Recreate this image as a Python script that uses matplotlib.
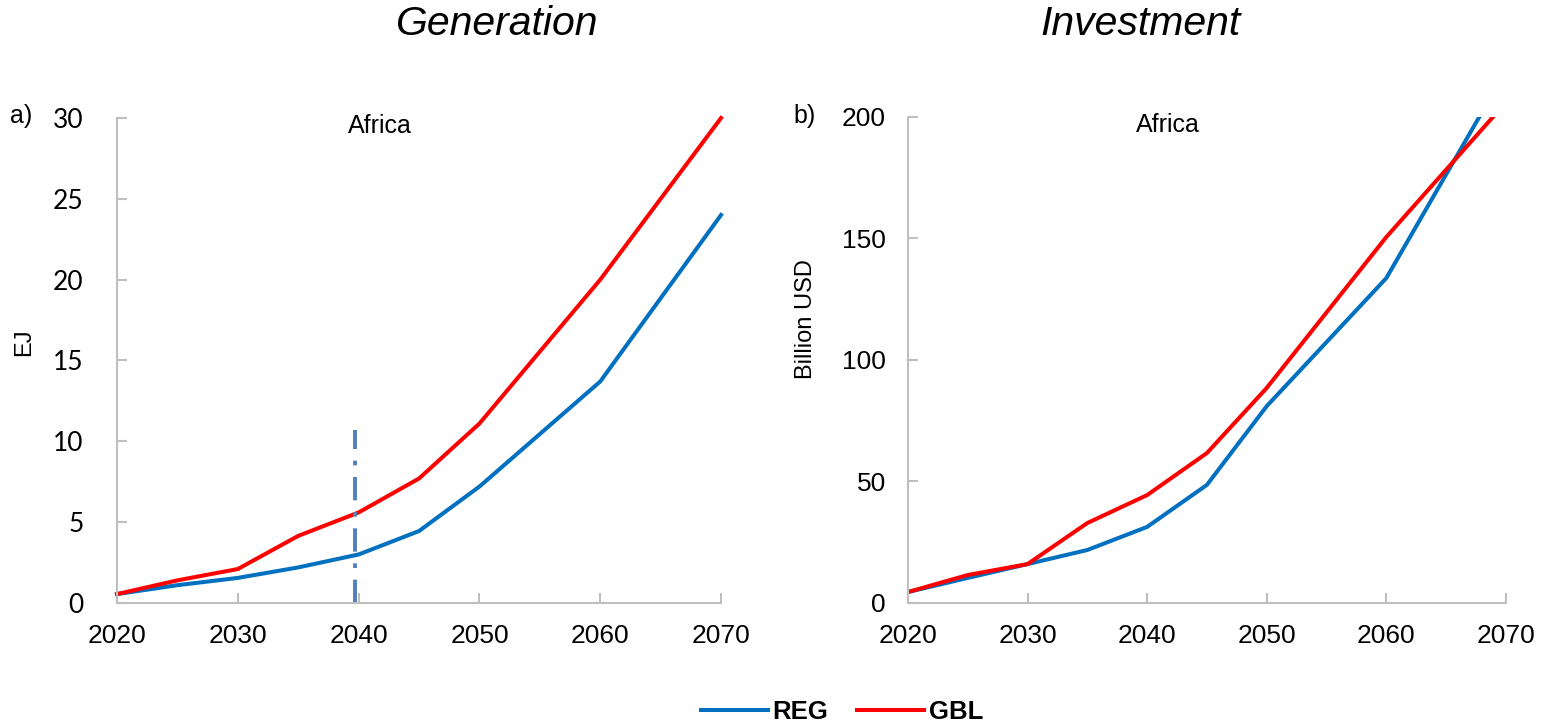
import matplotlib
matplotlib.use("Agg")
import matplotlib.pyplot as plt
from matplotlib.lines import Line2D

# Data
years = [2020, 2025, 2030, 2035, 2040, 2045, 2050, 2060, 2070]

# Generation (EJ), Africa
gen_reg = [0.55, 1.1, 1.55, 2.2, 3.0, 4.45, 7.2, 13.7, 24.0]
gen_gbl = [0.55, 1.4, 2.1, 4.15, 5.6, 7.7, 11.1, 20.0, 30.0]

# Investment (Billion USD), Africa
inv_reg = [4.5, 10.3, 16.0, 21.8, 31.3, 48.6, 81.0, 133.7, 219.0]
inv_gbl = [4.5, 11.5, 16.0, 32.9, 44.4, 61.7, 88.5, 150.6, 206.0]

# marker line at 2040 in generation panel
marker_year = 2040
marker_top = 10.7

BLUE = "#0070c0"
RED = "#ff0000"
GRID = "#bfbfbf"
ARIAL = "Liberation Sans"

fig = plt.figure(figsize=(15.42, 7.27), dpi=100)
ax1 = fig.add_axes([0.0759, 0.1706, 0.3917, 0.6671])
ax2 = fig.add_axes([0.5888, 0.1706, 0.3878, 0.6685])


def style_axis(ax, ylim, yticks, yfont):
    ax.set_xlim(2020, 2070)
    ax.set_ylim(*ylim)
    ax.set_xticks([2020, 2030, 2040, 2050, 2060, 2070])
    ax.set_yticks(yticks)
    for s in ["top", "right"]:
        ax.spines[s].set_visible(False)
    for s in ["left", "bottom"]:
        ax.spines[s].set_color(GRID)
        ax.spines[s].set_linewidth(1.5)
    ax.tick_params(axis="both", direction="in", length=7, width=1.5, color=GRID)
    ax.tick_params(axis="x", pad=15)
    for lab in ax.get_xticklabels():
        lab.set_fontfamily(ARIAL)
        lab.set_fontsize(19)
    for lab in ax.get_yticklabels():
        lab.set_fontfamily(yfont)
        lab.set_fontsize(19)


# a) Generation
ax1.plot(years, gen_reg, color=BLUE, lw=2.9, clip_on=False)
ax1.plot(years, gen_gbl, color=RED, lw=2.9, clip_on=False)
ax1.plot([marker_year - 0.3, marker_year - 0.3], [0, marker_top], color="#4f81bd",
         lw=2.8, linestyle=(0, (6, 3, 1.2, 3)))
style_axis(ax1, (0, 30), [0, 5, 10, 15, 20, 25, 30], "Lato")
ax1.tick_params(axis="y", pad=24)
ax1.text(0.435, 0.984, "Africa", transform=ax1.transAxes, ha="center", va="center",
         fontfamily=ARIAL, fontsize=18)

# b) Investment
ax2.plot(years, inv_reg, color=BLUE, lw=2.9)
ax2.plot(years, inv_gbl, color=RED, lw=2.9)
style_axis(ax2, (0, 200), [0, 50, 100, 150, 200], ARIAL)
ax2.tick_params(axis="y", pad=16)
ax2.text(0.435, 0.984, "Africa", transform=ax2.transAxes, ha="center", va="center",
         fontfamily=ARIAL, fontsize=18)

# axis labels (placed like the original, not centred on the axes)
fig.text(24 / 1542, 1 - 342 / 727, "EJ", fontfamily=ARIAL, fontsize=17,
         rotation=90, ha="center", va="center")
fig.text(806 / 1542, 1 - 319 / 727, "Billion USD", fontfamily=ARIAL, fontsize=17,
         rotation=90, ha="center", va="center")

# panel letters and titles
fig.text(10 / 1542, 1 - 116 / 727, "a)", fontfamily=ARIAL, fontsize=18, va="center")
fig.text(793 / 1542, 1 - 116 / 727, "b)", fontfamily=ARIAL, fontsize=18, va="center")
fig.text(497 / 1542, 1 - 24 / 727, "Generation", fontfamily=ARIAL, fontsize=29.5,
         style="italic", ha="center", va="center")
fig.text(1140 / 1542, 1 - 24 / 727, "Investment", fontfamily=ARIAL, fontsize=29.5,
         style="italic", ha="center", va="center")

# legend
handles = [Line2D([], [], color=BLUE, lw=2.9), Line2D([], [], color=RED, lw=2.9)]
fig.legend(handles, ["REG", "GBL"], loc="center", bbox_to_anchor=(842 / 1542, 1 - 712 / 727),
           ncol=2, frameon=False, handlelength=2.6, handletextpad=0.2, columnspacing=1.1,
           prop={"family": ARIAL, "weight": "bold", "size": 18.5})

fig.savefig("out.png", dpi=100)
